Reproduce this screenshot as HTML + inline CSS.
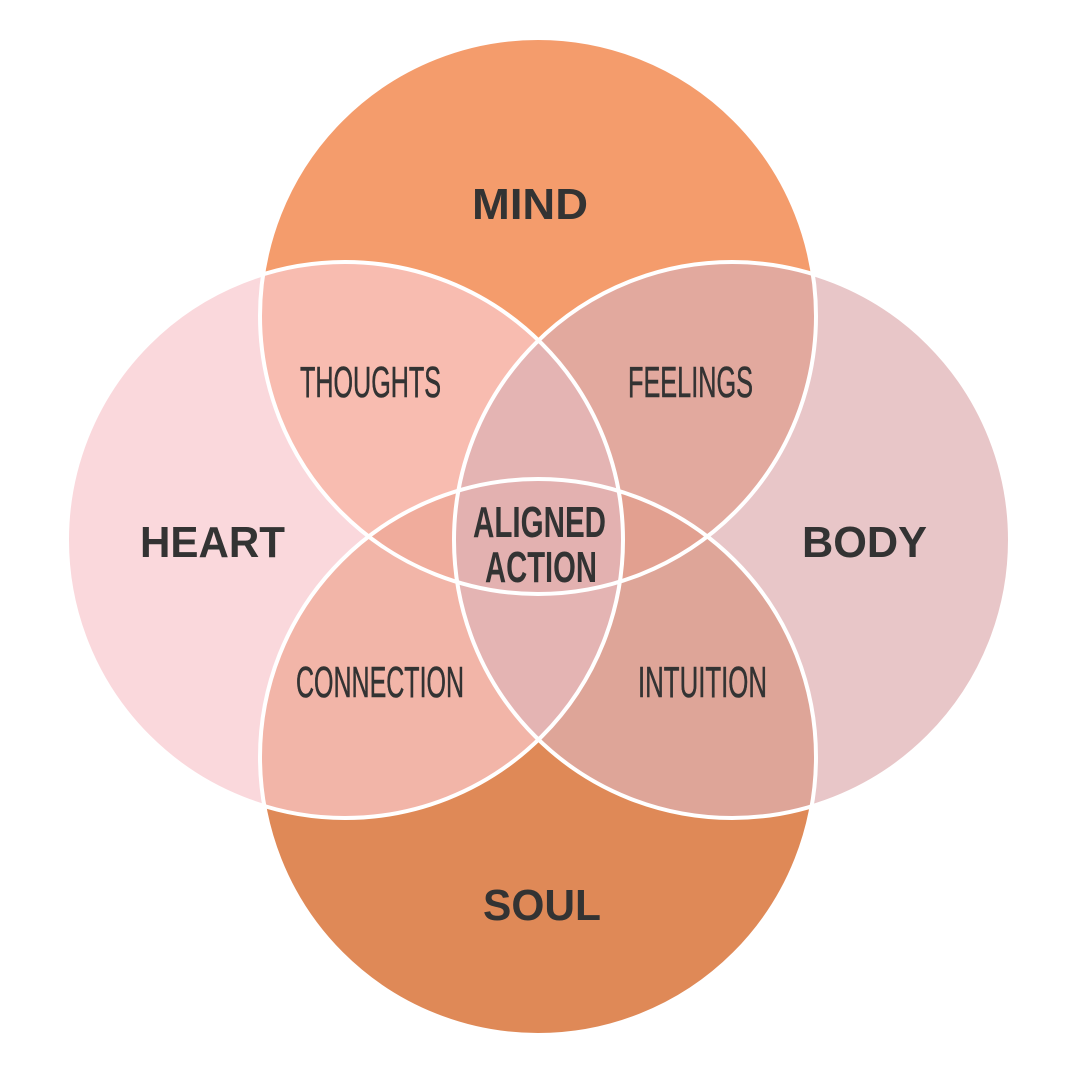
<!DOCTYPE html>
<html><head><meta charset="utf-8"><style>
html,body{margin:0;padding:0;background:#fff;}
svg{display:block;}
.big{font-family:"Liberation Sans",sans-serif;font-weight:bold;font-size:44px;fill:#333;}
.sm{font-family:"Liberation Sans",sans-serif;font-size:44px;fill:#333;stroke:#333;stroke-width:0.6;}
.al{font-family:"Liberation Sans",sans-serif;font-weight:bold;font-size:44px;fill:#333;}
</style></head><body>
<svg width="1080" height="1080" viewBox="0 0 1080 1080" xmlns="http://www.w3.org/2000/svg">
<defs>
<clipPath id="cM"><circle cx="538" cy="316" r="278"/></clipPath>
<clipPath id="cS"><circle cx="538" cy="757" r="278"/></clipPath>
<clipPath id="cH"><circle cx="345" cy="540" r="278"/></clipPath>
<clipPath id="cB"><circle cx="732" cy="540" r="278"/></clipPath>
</defs>
<rect width="1080" height="1080" fill="#fff"/>
<circle cx="538" cy="316" r="278" fill="#F49C6C"/>
<circle cx="538" cy="757" r="278" fill="#DF8957"/>
<circle cx="345" cy="540" r="278" fill="#FAD8DC"/>
<circle cx="732" cy="540" r="278" fill="#E8C6C8"/>
<g clip-path="url(#cM)"><circle cx="345" cy="540" r="278" fill="#F8BCB0"/><circle cx="732" cy="540" r="278" fill="#E2A99E"/></g>
<g clip-path="url(#cS)"><circle cx="345" cy="540" r="278" fill="#F2B5A8"/><circle cx="732" cy="540" r="278" fill="#DEA598"/></g>
<g clip-path="url(#cH)"><circle cx="732" cy="540" r="278" fill="#E4B4B3"/></g>
<g clip-path="url(#cM)"><g clip-path="url(#cS)"><circle cx="345" cy="540" r="278" fill="#F0AC9C"/><circle cx="732" cy="540" r="278" fill="#E2A090"/></g></g>
<g clip-path="url(#cH)"><g clip-path="url(#cB)"><circle cx="538" cy="316" r="278" fill="#E4B4B3"/><circle cx="538" cy="757" r="278" fill="#E4B4B3"/></g></g>
<g clip-path="url(#cM)"><g clip-path="url(#cS)"><g clip-path="url(#cH)"><circle cx="732" cy="540" r="278" fill="#E3B1B0"/></g></g></g>
<g fill="none" stroke="#fff" stroke-width="4">
<circle cx="538" cy="316" r="278"/>
<circle cx="538" cy="757" r="278"/>
<circle cx="345" cy="540" r="278"/>
<circle cx="732" cy="540" r="278"/>
</g>
<text class="big" x="472" y="219" textLength="116" lengthAdjust="spacingAndGlyphs">MIND</text>
<text class="big" x="140" y="557" textLength="145" lengthAdjust="spacingAndGlyphs">HEART</text>
<text class="big" x="802" y="557" textLength="125" lengthAdjust="spacingAndGlyphs">BODY</text>
<text class="big" x="483" y="920" textLength="118" lengthAdjust="spacingAndGlyphs">SOUL</text>
<text class="sm" x="300" y="397" textLength="141" lengthAdjust="spacingAndGlyphs">THOUGHTS</text>
<text class="sm" x="628" y="397" textLength="125" lengthAdjust="spacingAndGlyphs">FEELINGS</text>
<text class="sm" x="296" y="697" textLength="168" lengthAdjust="spacingAndGlyphs">CONNECTION</text>
<text class="sm" x="638" y="697" textLength="129" lengthAdjust="spacingAndGlyphs">INTUITION</text>
<text class="al" x="473" y="537" textLength="133" lengthAdjust="spacingAndGlyphs">ALIGNED</text>
<text class="al" x="485" y="582" textLength="112" lengthAdjust="spacingAndGlyphs">ACTION</text>
</svg>
</body></html>
